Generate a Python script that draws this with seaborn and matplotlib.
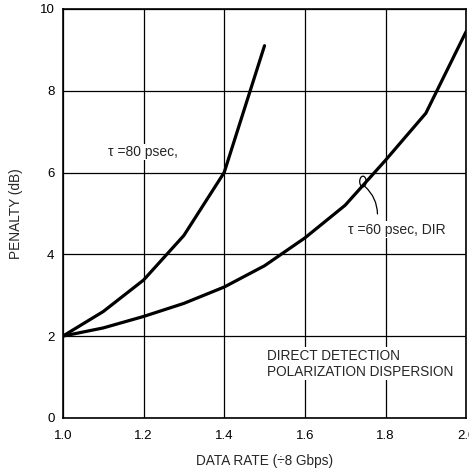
import matplotlib
matplotlib.use("Agg")
import matplotlib.pyplot as plt
import seaborn as sns
import pandas as pd
from matplotlib.patches import Ellipse

# Data
rate_80 = [1.0, 1.1, 1.2, 1.3, 1.4, 1.5]
penalty_80 = [2.0, 2.6, 3.37, 4.46, 6.0, 9.1]
rate_60 = [1.0, 1.1, 1.2, 1.3, 1.4, 1.5, 1.6, 1.7, 1.8, 1.9, 2.0]
penalty_60 = [2.0, 2.2, 2.48, 2.8, 3.2, 3.72, 4.4, 5.2, 6.3, 7.45, 9.45]
x_ticks = [1.0, 1.2, 1.4, 1.6, 1.8, 2.0]
x_tick_labels = ["1.0", "1.2", "1.4", "1.6", "1.8", "2.0"]
y_ticks = [0, 2, 4, 6, 8, 10]
y_tick_labels = ["0", "2", "4", "6", "8", "10"]

df = pd.concat([
    pd.DataFrame({"rate": rate_80, "penalty": penalty_80, "tau": "80"}),
    pd.DataFrame({"rate": rate_60, "penalty": penalty_60, "tau": "60"}),
])

sns.set_style("white")
plt.rcParams["font.family"] = ["Liberation Sans", "DejaVu Sans"]

fig = plt.figure(figsize=(4.69, 4.68), dpi=100)
ax = fig.add_axes([0.134, 0.107, 0.860, 0.874])

sns.lineplot(data=df, x="rate", y="penalty", hue="tau", palette=["black", "black"],
             linewidth=2.3, legend=False, ax=ax, sort=False, estimator=None)

ax.set_xlim(1.0, 2.0)
ax.set_ylim(0, 10)
ax.set_xticks(x_ticks)
ax.set_xticklabels(x_tick_labels)
ax.set_yticks(y_ticks)
ax.set_yticklabels(y_tick_labels)
ax.tick_params(axis="both", length=0, labelsize=9.5, colors="black", pad=6)
ax.tick_params(axis="x", pad=9)
ax.grid(True, color="black", linewidth=0.9)
for s in ax.spines.values():
    s.set_color("black")
    s.set_linewidth(1.2)

ax.set_xlabel("DATA RATE (\u00f78 Gbps)", fontsize=9.8, labelpad=8)
ax.set_ylabel("PENALTY (dB)", fontsize=9.8, labelpad=12)

# annotations
ax.text(1.112, 6.5, "\u03c4 =80 psec,", fontsize=10, va="center", ha="left",
        bbox=dict(facecolor="white", edgecolor="none", pad=1))
ax.text(1.706, 4.6, "\u03c4 =60 psec, DIR", fontsize=10, va="center", ha="left",
        bbox=dict(facecolor="white", edgecolor="none", pad=1))
ax.add_patch(Ellipse((1.744, 5.78), 0.016, 0.26, angle=0, fill=False,
                     edgecolor="black", linewidth=0.9))
ax.annotate("", xy=(1.744, 5.7), xytext=(1.78, 4.92),
            arrowprops=dict(arrowstyle="-", color="black", linewidth=0.9,
                            connectionstyle="arc3,rad=0.25"))
ax.text(1.505, 1.32, "DIRECT DETECTION\nPOLARIZATION DISPERSION", fontsize=9.8,
        va="center", ha="left", linespacing=1.2,
        bbox=dict(facecolor="white", edgecolor="none", pad=1))

fig.savefig("out.png", dpi=100)
